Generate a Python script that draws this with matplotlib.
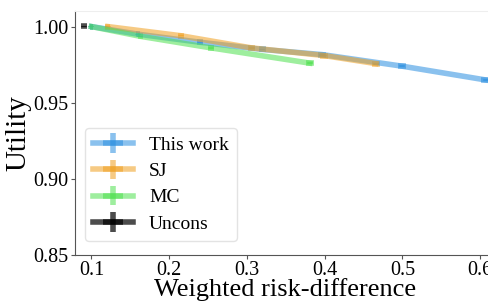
import numpy as np
import matplotlib
matplotlib.use('Agg')
import matplotlib.pyplot as plt

# --------------------------------------------------------------------------- #
# Data
# --------------------------------------------------------------------------- #
labels = ["This work", "SJ", "MC", "Uncons"]
colors = ["#2b8fe0", "#f0a020", "#4ee04e", "black"]

ours_x = [0.100, 0.160, 0.240, 0.320, 0.397, 0.500, 0.607]
ours_y = [1.0000, 0.9950, 0.9897, 0.9850, 0.9816, 0.9740, 0.9650]
ours_xerr = [0.002, 0.003, 0.004, 0.004, 0.005, 0.005, 0.006]
ours_yerr = [0.0003, 0.0004, 0.0005, 0.0005, 0.0006, 0.0006, 0.0007]

sj_x = [0.121, 0.215, 0.306, 0.399, 0.466]
sj_y = [1.0000, 0.9940, 0.9860, 0.9810, 0.9757]
sj_xerr = [0.003, 0.004, 0.004, 0.005, 0.005]
sj_yerr = [0.0004, 0.0005, 0.0005, 0.0006, 0.0006]

mc_x = [0.100, 0.163, 0.254, 0.381]
mc_y = [1.0000, 0.9936, 0.9860, 0.9760]
mc_xerr = [0.002, 0.003, 0.004, 0.005]
mc_yerr = [0.0003, 0.0004, 0.0005, 0.0006]

uncons_x = [0.090]
uncons_y = [1.0003]
uncons_xerr = [0.004]
uncons_yerr = [0.0004]

# --------------------------------------------------------------------------- #
# Plot
# --------------------------------------------------------------------------- #
def main():
  plt.rcParams['font.family'] = ['Liberation Serif', 'DejaVu Serif']

  fig = plt.figure(figsize=(4.88, 3.02), dpi=100)
  ax = fig.add_axes([0.154, 0.155, 0.86, 0.81])

  series = [(ours_x, ours_y, ours_xerr, ours_yerr),
            (sj_x, sj_y, sj_xerr, sj_yerr),
            (mc_x, mc_y, mc_xerr, mc_yerr),
            (uncons_x, uncons_y, uncons_xerr, uncons_yerr)]

  for (x, y, xe, ye), lab, col in zip(series, labels, colors):
    alpha = 0.7 if col == "black" else 0.55
    ax.errorbar(x, y, xerr=xe, yerr=ye, color=col, alpha=alpha,
                linewidth=4, elinewidth=4, label=lab)

  ax.set_xlim(0.079, 0.619)
  ax.set_ylim(0.85, 1.0105)
  ax.set_xticks([0.1, 0.2, 0.3, 0.4, 0.5, 0.6])
  ax.set_yticks([0.85, 0.90, 0.95, 1.00])
  ax.set_yticklabels(["0.85", "0.90", "0.95", "1.00"])
  ax.tick_params(labelsize=14.5, color='#555555', length=3)
  ax.tick_params(axis='x', pad=1)
  ax.tick_params(axis='y', pad=2)

  ax.set_xlabel("Weighted risk-difference", fontsize=19, labelpad=-1)
  ax.set_ylabel("Utility", fontsize=21, labelpad=1)

  ax.spines['right'].set_visible(False)
  ax.spines['top'].set_color('#eeeeee')
  ax.spines['left'].set_color('#555555')
  ax.spines['bottom'].set_color('#555555')

  leg = ax.legend(loc='lower left', bbox_to_anchor=(0.0, 0.02), fontsize=14,
                  frameon=True, handlelength=2.1, borderpad=0.4,
                  labelspacing=0.45)
  leg.get_frame().set_edgecolor('#dddddd')

  fig.savefig("out.png", dpi=100)


if __name__ == '__main__':
  main()
